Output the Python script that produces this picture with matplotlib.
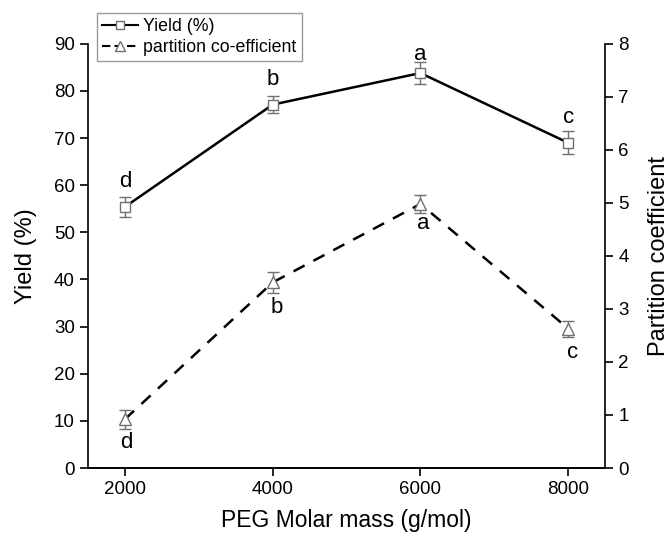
import matplotlib
matplotlib.use("Agg")
import matplotlib.pyplot as plt
from matplotlib.lines import Line2D

plt.rcParams['font.family'] = ['Liberation Sans', 'DejaVu Sans']

peg_mass = [2000, 4000, 6000, 8000]
yield_pct = [55.4, 77.1, 83.8, 69.0]
yield_err = [2.1, 1.8, 2.3, 2.4]
yield_letters = ['d', 'b', 'a', 'c']
partition = [0.92, 3.5, 4.98, 2.63]
partition_err = [0.18, 0.19, 0.17, 0.15]
partition_letters = ['d', 'b', 'a', 'c']

fig = plt.figure(figsize=(6.69, 5.39), dpi=100)
ax = fig.add_axes([0.1315, 0.1317, 0.773, 0.787])
ax2 = ax.twinx()

grey = '#707070'
ax.plot(peg_mass, yield_pct, color='black', lw=1.8, zorder=2)
ax.errorbar(peg_mass, yield_pct, yerr=yield_err, fmt='s', mfc='white', mec=grey,
            ms=7, mew=1.0, ecolor=grey, elinewidth=1.0, capsize=4, capthick=1.0, zorder=3)
ax2.plot(peg_mass, partition, color='black', lw=1.8, ls=(0, (5, 4)), zorder=2)
ax2.errorbar(peg_mass, partition, yerr=partition_err, fmt='^', mfc='white', mec=grey,
             ms=8, mew=1.0, ecolor=grey, elinewidth=1.0, capsize=4, capthick=1.0, zorder=3)

ya_off = [(0, 18), (0, 18), (0, 13), (0, 18)]
for x, y, t, off in zip(peg_mass, yield_pct, yield_letters, ya_off):
    ax.annotate(t, (x, y), xytext=off, textcoords='offset points', ha='center',
                va='center', fontsize=16)
pa_off = [(1, -17), (3, -18), (2, -14), (3, -17)]
for x, y, t, off in zip(peg_mass, partition, partition_letters, pa_off):
    ax2.annotate(t, (x, y), xytext=off, textcoords='offset points', ha='center',
                 va='center', fontsize=16)

ax.set_xlim(1500, 8500)
ax.set_ylim(0, 90)
ax2.set_ylim(0, 8)
ax.set_xticks([2000, 4000, 6000, 8000])
ax.set_yticks(range(0, 91, 10))
ax2.set_yticks(range(0, 9))

for a in (ax, ax2):
    a.spines['top'].set_visible(False)
    for s in a.spines.values():
        s.set_linewidth(1.2)
    a.tick_params(direction='out', length=6, width=1.2, labelsize=13.5)
ax2.spines['left'].set_visible(False)
ax.spines['right'].set_visible(False)
ax2.spines['right'].set_visible(True)

ax.set_xlabel('PEG Molar mass (g/mol)', fontsize=16.5, labelpad=8)
ax.set_ylabel('Yield (%)', fontsize=17, labelpad=12)
ax2.set_ylabel('Partition coefficient', fontsize=17, labelpad=14)

h1 = Line2D([], [], color='black', lw=1.5, marker='s', mfc='white', mec=grey, ms=6, mew=1.0)
h2 = Line2D([], [], color='black', lw=1.5, ls=(0, (4, 2)), marker='^', mfc='white', mec=grey, ms=7, mew=1.0)
leg = fig.legend([h1, h2], ['Yield (%)', 'partition co-efficient'], loc='upper left',
                 bbox_to_anchor=(0.145, 0.976), bbox_transform=fig.transFigure,
                 fontsize=12.8, frameon=True, fancybox=False, edgecolor='#808080',
                 handlelength=2.0, handletextpad=0.3, borderpad=0.3, labelspacing=0.2,
                 borderaxespad=0)
leg.get_frame().set_linewidth(1.0)

fig.savefig('out.png', dpi=100)
